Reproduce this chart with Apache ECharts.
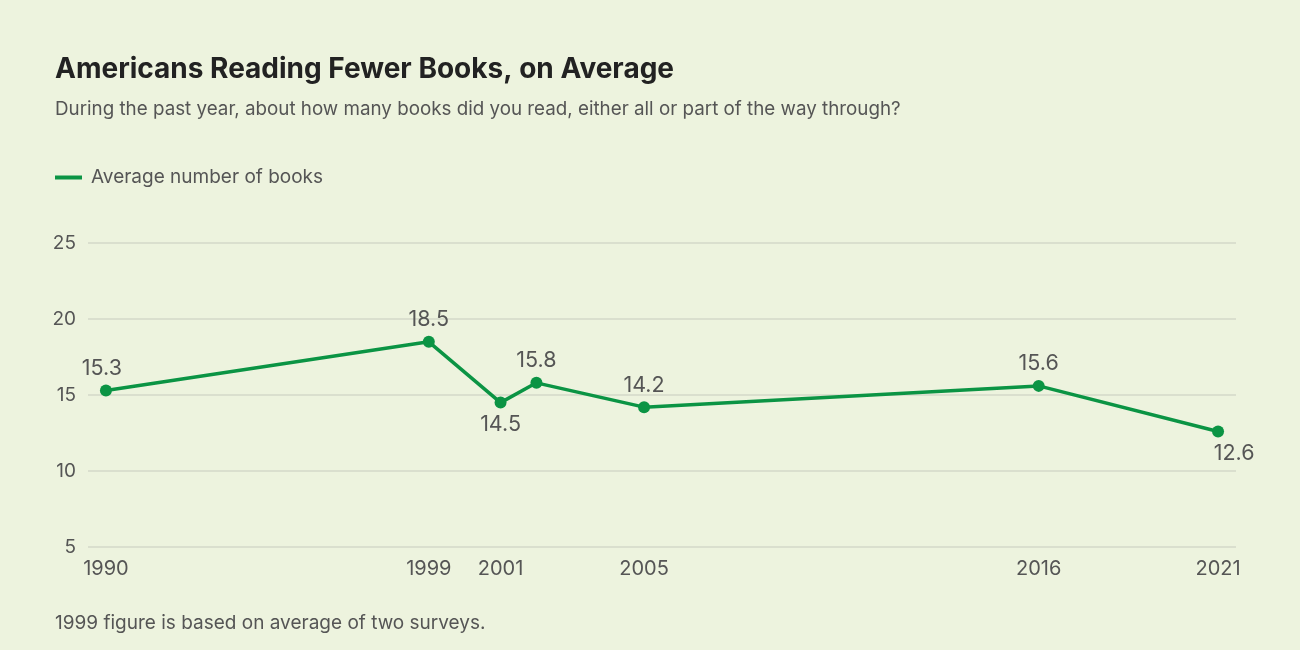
<!DOCTYPE html>
<html>
<head>
<meta charset="utf-8">
<script src="https://cdn.jsdelivr.net/npm/echarts@6/dist/echarts.min.js"></script>
<style>
  html, body { margin: 0; padding: 0; background: #edf3de; }
  #chart { width: 1300px; height: 650px; }
</style>
</head>
<body>
<div id="chart"></div>
<script>
// data
var years = [1990, 1999, 2001, 2002, 2005, 2016, 2021];
var avgBooks = [15.3, 18.5, 14.5, 15.8, 14.2, 15.6, 12.6];
var yearLabels = [1990, 1999, 2001, 2005, 2016, 2021];
var labelsBelow = [2001, 2021];
var yTicks = [5, 10, 15, 20, 25];

var green = "#0b9444";
var textGray = "#555555";
var font = "Inter, 'Noto Sans', sans-serif";

var seriesData = years.map(function (y, i) {
    var below = labelsBelow.indexOf(y) >= 0;
    return {
        value: [y, avgBooks[i]],
        label: {
            position: below ? "bottom" : "top",
            offset: y === 2021 ? [16, 0] : (y === 1990 ? [-4, 0] : [0, 0])
        }
    };
});

var chart = echarts.init(document.getElementById("chart"));
chart.setOption({
    backgroundColor: "#edf3de",
    animation: false,
    textStyle: { fontFamily: font },
    title: [
        {
            text: "Americans Reading Fewer Books, on Average",
            left: 50, top: 51,
            textStyle: { fontFamily: font, fontSize: 28, fontWeight: "bold", color: "#222222" }
        },
        {
            text: "During the past year, about how many books did you read, either all or part of the way through?",
            left: 50, top: 95,
            textStyle: { fontFamily: font, fontSize: 18.8, fontWeight: "normal", color: textGray }
        },
        {
            text: "1999 figure is based on average of two surveys.",
            left: 50, top: 609,
            textStyle: { fontFamily: font, fontSize: 19, fontWeight: "normal", color: textGray }
        }
    ],
    legend: {
        left: 50, top: 163,
        icon: "rect",
        itemWidth: 27, itemHeight: 4, itemGap: 10,
        textStyle: { fontFamily: font, fontSize: 19, color: textGray, padding: [0, 0, 0, 4] },
        data: ["Average number of books"]
    },
    grid: { left: 88, right: 64, top: 243, bottom: 103, containLabel: false },
    xAxis: {
        type: "value",
        min: 1989.5, max: 2021.5, interval: 0.5,
        axisLine: { show: false },
        axisTick: { show: false },
        splitLine: { show: false },
        axisLabel: {
            margin: 12,
            fontFamily: font, fontSize: 20, color: textGray,
            showMinLabel: true, showMaxLabel: true,
            formatter: function (v) {
                return yearLabels.indexOf(v) >= 0 ? String(v) : "";
            }
        }
    },
    yAxis: {
        type: "value",
        min: yTicks[0], max: yTicks[yTicks.length - 1], interval: 5,
        axisLine: { show: false },
        axisTick: { show: false },
        splitLine: { lineStyle: { color: "#d3d9c8", width: 1.5 } },
        axisLabel: { margin: 12, fontFamily: font, fontSize: 19, color: textGray }
    },
    series: [{
        name: "Average number of books",
        type: "line",
        data: seriesData,
        symbol: "circle",
        symbolSize: 12,
        itemStyle: { color: green },
        lineStyle: { color: green, width: 3.5 },
        label: {
            show: true,
            distance: 5,
            fontFamily: font, fontSize: 21.5, color: textGray,
            formatter: function (p) { return p.value[1].toFixed(1); }
        }
    }]
});
</script>
</body>
</html>
